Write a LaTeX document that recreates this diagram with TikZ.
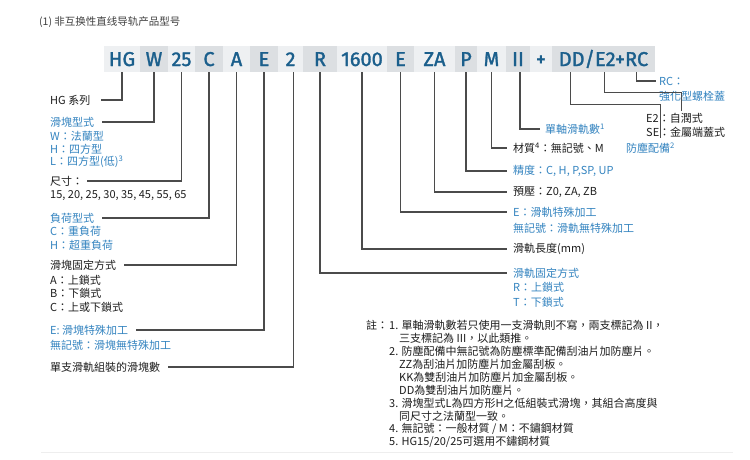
\documentclass[tikz,border=0pt]{standalone}
\usepackage{fontspec}
\setmainfont{Noto Sans CJK TC}
\newfontfamily\codefont[FakeBold=1.6]{Fira Sans}
\newfontfamily\scfont{Noto Sans CJK SC}
\usetikzlibrary{calc}
\definecolor{codeblue}{RGB}{27,95,140}
\definecolor{lblue}{RGB}{52,132,192}
\definecolor{ink}{RGB}{30,30,30}
\definecolor{lnc}{RGB}{75,75,75}
\definecolor{boxL}{RGB}{238,240,242}
\definecolor{boxD}{RGB}{220,223,226}
\definecolor{faint}{RGB}{238,238,238}
\begin{document}
\begin{tikzpicture}[x=1pt,y=-1pt,
  cbox/.style={fill=#1, minimum height=26pt, inner xsep=0pt, inner ysep=0pt,
    text height=14pt, text depth=0pt, font=\codefont\fontsize{20}{20}\selectfont, text=codeblue},
  lbl/.style={anchor=west, inner sep=0pt, font=\fontsize{11}{13}\selectfont, text=ink},
  blbl/.style={lbl, text=lblue},
  conn/.style={draw=lnc, line width=1.1pt}
]
\useasboundingbox (0,0) rectangle (750,459);
\fill[white] (0,0) rectangle (750,459);

% title
\node[lbl, text=ink!85, font=\scfont\fontsize{10.5}{12}\selectfont] (title) at (39,22) {(1) 非互换性直线导轨产品型号};

% code boxes
\node[cbox=boxL, minimum width=36pt] (bHG) at (122,59) {HG};
\node[cbox=boxD, minimum width=28pt] (bW) at (154,59) {W};
\node[cbox=boxL, minimum width=27pt] (b25) at (181.5,59) {25};
\node[cbox=boxD, minimum width=28pt] (bC) at (209,59) {C};
\node[cbox=boxL, minimum width=27pt] (bA) at (236.5,59) {A};
\node[cbox=boxD, minimum width=28pt] (bE) at (264,59) {E};
\node[cbox=boxL, minimum width=25pt] (b2) at (290.5,59) {2};
\node[cbox=boxD, minimum width=34pt] (bR) at (320,59) {R};
\node[cbox=boxL, minimum width=50pt] (bLen) at (362,59) {1600};
\node[cbox=boxD, minimum width=27pt] (bRE) at (400.5,59) {E};
\node[cbox=boxL, minimum width=41pt] (bZA) at (434.5,59) {ZA};
\node[cbox=boxD, minimum width=22pt] (bP) at (466,59) {P};
\node[cbox=boxL, minimum width=29pt] (bM) at (491.5,59) {M};
\node[cbox=boxD, minimum width=24pt] (bII) at (518,59) {II};
\node[cbox=boxL, minimum width=22pt] (bPlus) at (541,59) {+};
\node[cbox=boxD, minimum width=103pt] (bDD) at (603.5,59) {DD/E2+RC};

% left labels
\node[lbl] (lHG) at (50,100) {HG 系列};
\node[blbl] (lW) at (50,122) {滑塊型式};
\node[blbl] (lW1) at (50,136) {W：法蘭型};
\node[blbl] (lW2) at (50,149) {H：四方型};
\node[blbl] (lW3) at (50,162) {L：四方型(低)\textsuperscript{3}};
\node[lbl] (lS) at (50,181) {尺寸：};
\node[lbl] (lS1) at (50,196) {15, 20, 25, 30, 35, 45, 55, 65};
\node[blbl] (lC) at (50,218) {負荷型式};
\node[blbl] (lC1) at (50,231) {C：重負荷};
\node[blbl] (lC2) at (50,245) {H：超重負荷};
\node[lbl] (lA) at (50,265) {滑塊固定方式};
\node[lbl] (lA1) at (50,280) {A：上鎖式};
\node[lbl] (lA2) at (50,293) {B：下鎖式};
\node[lbl] (lA3) at (50,307) {C：上或下鎖式};
\node[blbl] (lE) at (50,330) {E: 滑塊特殊加工};
\node[blbl] (lE1) at (50,345) {無記號：滑塊無特殊加工};
\node[lbl] (l2) at (50,367) {單支滑軌組裝的滑塊數};

% right labels
\node[blbl] (lII) at (545,129) {單軸滑軌數\textsuperscript{1}};
\node[lbl] (lM) at (513,148) {材質\textsuperscript{4}：無記號、M};
\node[blbl] (lP) at (513,171) {精度：C, H, P,SP, UP};
\node[lbl] (lZA) at (513,192) {預壓：Z0, ZA, ZB};
\node[blbl] (lRE) at (513,212) {E：滑軌特殊加工};
\node[blbl] (lRE1) at (513,228) {無記號：滑軌無特殊加工};
\node[lbl] (lLen) at (513,249) {滑軌長度(mm)};
\node[blbl] (lR) at (513,273) {滑軌固定方式};
\node[blbl] (lR1) at (513,287) {R：上鎖式};
\node[blbl] (lR2) at (513,302) {T：下鎖式};
\node[blbl] (lDust) at (626,148) {防塵配備\textsuperscript{2}};
\node[lbl] (lE2) at (646,118) {E2：自潤式};
\node[lbl] (lSE) at (646,132) {SE：金屬端蓋式};
\node[blbl] (lRC) at (659,81) {RC：};
\node[blbl] (lRC1) at (659,96) {強化型螺栓蓋};

% connectors left
\draw[conn, shorten >=11pt] (bHG.south) |- (lHG.east);
\draw[conn, shorten >=8pt] (bW.south) |- (lW.east);
\draw[conn, shorten >=4pt] (b25.south) |- (lS.east);
\draw[conn, shorten >=8pt] (bC.south) |- (lC.east);
\draw[conn, shorten >=8pt] (bA.south) |- (lA.east);
\draw[conn, shorten >=8pt] (bE.south) |- (lE.east);
\draw[conn, shorten >=8pt] ([xshift=3pt]b2.south) |- (l2.east);

% connectors right
\draw[conn, shorten >=6pt] (bR.south) |- (lR.west);
\draw[conn, shorten >=6pt] (bLen.south) |- (lLen.west);
\draw[conn, shorten >=6pt] (bRE.south) |- (lRE.west);
\draw[conn, shorten >=6pt] (bZA.south) |- (lZA.west);
\draw[conn, shorten >=6pt] (bP.south) |- (lP.west);
\draw[conn, shorten >=6pt] (bM.south) |- (lM.west);
\draw[conn, shorten >=5pt] ([xshift=2pt]bII.south) |- (lII.west);
\draw[conn, shorten >=5pt] ($(bDD.south west)+(19,0)$) -- ++(0,32) -| ([xshift=10pt]lDust.north);
\draw[conn, shorten >=2pt] ($(bDD.south west)+(53,0)$) -- ++(0,20) -| ([xshift=7pt]lE2.north);
\draw[conn, shorten >=3pt] ($(bDD.south west)+(85,0)$) |- (lRC.west);

% notes
\node[lbl] (n0) at (366,325) {註：};
\node[lbl] (n1) at (389,325) {1. 單軸滑軌數若只使用一支滑軌則不寫，兩支標記為 II，};
\node[lbl] (n1b) at (399,338) {三支標記為 III，以此類推。};
\node[lbl] (n2) at (389,351) {2. 防塵配備中無記號為防塵標準配備刮油片加防塵片。};
\node[lbl] (n2b) at (399,364) {ZZ為刮油片加防塵片加金屬刮板。};
\node[lbl] (n2c) at (399,377) {KK為雙刮油片加防塵片加金屬刮板。};
\node[lbl] (n2d) at (399,390) {DD為雙刮油片加防塵片。};
\node[lbl] (n3) at (389,403) {3. 滑塊型式L為四方形H之低組裝式滑塊，其組合高度與};
\node[lbl] (n3b) at (399,416) {同尺寸之法蘭型一致。};
\node[lbl] (n4) at (389,429) {4. 無記號：一般材質 / M：不鏽鋼材質};
\node[lbl] (n5) at (389,442) {5. HG15/20/25可選用不鏽鋼材質};

\draw[faint, line width=0.8pt] (41,452) -- (733,452);
\end{tikzpicture}
\end{document}
